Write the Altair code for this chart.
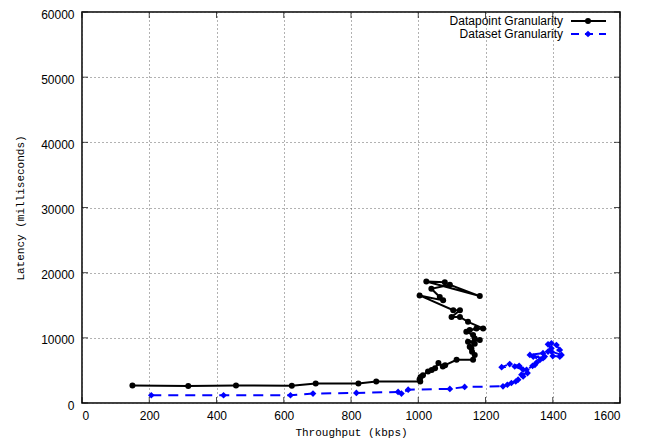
import altair as alt
import pandas as pd

# Datapoint Granularity (black, solid, circles) in drawing order
dp_x = [150, 316, 458, 624, 695, 822, 875, 1006, 1004, 1007, 1014, 1029, 1040, 1050,
        1060, 1073, 1080, 1114, 1163, 1168, 1160, 1158, 1153, 1168, 1148, 1183, 1168,
        1163, 1143, 1173, 1153, 1193, 1148, 1124, 1099, 1124, 1104, 1004, 1074, 1064,
        1039, 1094, 1183, 1024, 1079]
dp_y = [2700, 2600, 2700, 2650, 3000, 3000, 3300, 3300, 3650, 4000, 4250, 4850, 5050, 5350,
        6150, 5600, 5800, 6620, 6620, 7380, 7880, 8400, 8650, 9100, 9410, 9660, 9900,
        10430, 10930, 11440, 11190, 11440, 12450, 13210, 13210, 14230, 14230, 16510, 15750, 16260,
        17530, 18140, 16410, 18650, 18540]

# Dataset Granularity (blue, dashed, diamonds) in drawing order
ds_x = [206, 421, 620, 687, 816, 940, 950, 970, 1094, 1138, 1252, 1265, 1277, 1290, 1297,
        1312, 1307, 1325, 1312, 1287, 1248, 1272, 1300, 1322, 1340, 1347, 1352, 1362, 1342,
        1376, 1371, 1332, 1371, 1386, 1396, 1386, 1396, 1411, 1421, 1396, 1426, 1400, 1421]
ds_y = [1190, 1190, 1190, 1450, 1550, 1700, 1450, 2050, 2160, 2470, 2560, 2800, 3070, 3300, 3580,
        4080, 4340, 4600, 5100, 5600, 5500, 5970, 5700, 5100, 5700, 5860, 6210, 6620, 7120,
        7120, 6880, 7380, 7640, 7890, 8400, 9000, 9160, 8900, 8140, 7890, 7380, 7200, 7120]

x_ticks = [0, 200, 400, 600, 800, 1000, 1200, 1400, 1600]
y_ticks = [0, 10000, 20000, 30000, 40000, 50000, 60000]
series_names = ["Datapoint Granularity", "Dataset Granularity"]

W, H = 538, 391

dp = pd.DataFrame({"x": dp_x, "y": dp_y, "i": range(len(dp_x))})
ds = pd.DataFrame({"x": ds_x, "y": ds_y, "i": range(len(ds_x))})

xs = alt.Scale(domain=[0, 1600], nice=False, zero=False)
ys = alt.Scale(domain=[0, 60000], nice=False, zero=False)

x_axis = alt.Axis(values=x_ticks, format="d", title="Throughput (kbps)", grid=True, ticks=False, domain=False,
                  labelPadding=7, titleX=W / 2, titleY=29, titleBaseline="middle")
y_axis = alt.Axis(values=y_ticks, format="d", title="Latency (milliseconds)", grid=True, ticks=False, domain=False,
                  labelPadding=8, labelOffset=2, titleX=-62, titleY=H / 2, titleBaseline="middle")

X = alt.X("x:Q", scale=xs, axis=x_axis)
Y = alt.Y("y:Q", scale=ys, axis=y_axis)

dp_line = alt.Chart(dp).mark_line(color="black", strokeWidth=2).encode(x=X, y=Y, order="i:Q")
dp_pts = alt.Chart(dp).mark_point(color="black", filled=True, shape="circle", size=36, opacity=1).encode(x=X, y=Y)
ds_line = alt.Chart(ds).mark_line(color="#0000ff", strokeWidth=2, strokeDash=[10, 7]).encode(x=X, y=Y, order="i:Q")
ds_pts = alt.Chart(ds).mark_point(color="#0000ff", filled=True, shape="diamond", size=45, opacity=1).encode(x=X, y=Y)

# inward ticks like gnuplot
xt = pd.DataFrame({"x": x_ticks})
yt = pd.DataFrame({"y": y_ticks})
tick_b = alt.Chart(xt).mark_tick(color="black", size=6, thickness=1).encode(x=X, y=alt.value(H - 3))
tick_t = alt.Chart(xt).mark_tick(color="black", size=6, thickness=1).encode(x=X, y=alt.value(3))
tick_l = alt.Chart(yt).mark_tick(color="black", size=6, thickness=1).encode(y=Y, x=alt.value(3))
tick_r = alt.Chart(yt).mark_tick(color="black", size=6, thickness=1).encode(y=Y, x=alt.value(W - 3))

# legend (gnuplot style: label then sample)
leg_df1 = pd.DataFrame({"t": [series_names[0]]})
leg_df2 = pd.DataFrame({"t": [series_names[1]]})
ly1, ly2 = 9, 22
lt1 = alt.Chart(leg_df1).mark_text(align="right", baseline="middle", font="Liberation Sans", fontSize=12,
                                   color="black").encode(text="t:N", x=alt.value(481), y=alt.value(ly1))
lt2 = alt.Chart(leg_df2).mark_text(align="right", baseline="middle", font="Liberation Sans", fontSize=12,
                                   color="black").encode(text="t:N", x=alt.value(481), y=alt.value(ly2))
lr1 = alt.Chart(leg_df1).mark_rule(color="black", strokeWidth=2).encode(
    x=alt.value(489), x2=alt.value(524), y=alt.value(ly1))
lr2 = alt.Chart(leg_df2).mark_rule(color="#0000ff", strokeWidth=2, strokeDash=[8, 6]).encode(
    x=alt.value(489), x2=alt.value(524), y=alt.value(ly2))
lp1 = alt.Chart(leg_df1).mark_point(color="black", filled=True, shape="circle", size=36, opacity=1).encode(
    x=alt.value(506), y=alt.value(ly1))
lp2 = alt.Chart(leg_df2).mark_point(color="#0000ff", filled=True, shape="diamond", size=45, opacity=1).encode(
    x=alt.value(506), y=alt.value(ly2))

chart = alt.layer(
    dp_line, dp_pts, ds_line, ds_pts, tick_b, tick_t, tick_l, tick_r,
    lt1, lt2, lr1, lr2, lp1, lp2
).properties(
    width=W, height=H,
    autosize=alt.AutoSizeParams(type="none"),
    padding={"left": 74, "top": 4, "right": 10, "bottom": 35},
).configure_view(
    stroke="black", strokeWidth=1.5
).configure_axis(
    labelFont="Liberation Sans", labelFontSize=12, labelColor="black",
    titleFont="Liberation Mono", titleFontSize=11, titleFontWeight="normal", titleColor="black",
    gridColor="#555555", gridDash=[1, 3], gridWidth=1, gridOpacity=0.9,
)

chart.save("out.html", embed_options={"renderer": "svg", "actions": False})
